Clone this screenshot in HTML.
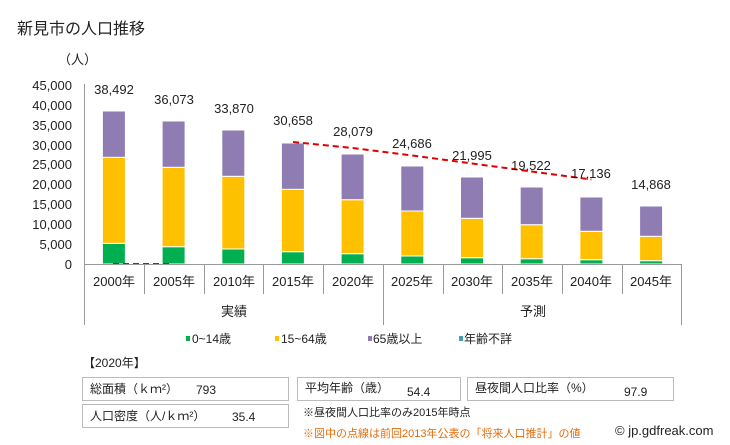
<!DOCTYPE html>
<html><head><meta charset="utf-8"><style>
body{margin:0;background:#fff;}
svg{display:block;font-family:"Liberation Sans","Noto Sans CJK JP",sans-serif;}
</style></head><body>
<svg width="730" height="445" viewBox="0 0 730 445" xmlns="http://www.w3.org/2000/svg">
<text x="17" y="34" font-size="16" fill="#222">新見市の人口推移</text>
<text x="58" y="64" font-size="13" fill="#222">（人）</text>
<g font-size="13" fill="#222" text-anchor="end">
<text x="72" y="269">0</text>
<text x="72" y="249">5,000</text>
<text x="72" y="229">10,000</text>
<text x="72" y="209">15,000</text>
<text x="72" y="189">20,000</text>
<text x="72" y="169">25,000</text>
<text x="72" y="150">30,000</text>
<text x="72" y="130">35,000</text>
<text x="72" y="110">40,000</text>
<text x="72" y="90">45,000</text>
</g>
<line x1="84.5" y1="84" x2="84.5" y2="264" stroke="#999"/>
<g stroke="#fff" stroke-width="1">
<rect x="102.4" y="243.3" width="23" height="20.7" fill="#00b050"/><rect x="102.4" y="157.3" width="23" height="86" fill="#ffc000"/><rect x="102.4" y="111" width="23" height="46.3" fill="#8e7cb3"/>
<rect x="162.1" y="246.7" width="23" height="17.3" fill="#00b050"/><rect x="162.1" y="167.3" width="23" height="79.4" fill="#ffc000"/><rect x="162.1" y="121" width="23" height="46.3" fill="#8e7cb3"/>
<rect x="221.8" y="249" width="23" height="15" fill="#00b050"/><rect x="221.8" y="176.3" width="23" height="72.7" fill="#ffc000"/><rect x="221.8" y="130" width="23" height="46.3" fill="#8e7cb3"/>
<rect x="281.4" y="251.7" width="23" height="12.3" fill="#00b050"/><rect x="281.4" y="189.3" width="23" height="62.4" fill="#ffc000"/><rect x="281.4" y="143" width="23" height="46.3" fill="#8e7cb3"/>
<rect x="341.1" y="253.7" width="23" height="10.3" fill="#00b050"/><rect x="341.1" y="199.7" width="23" height="54" fill="#ffc000"/><rect x="341.1" y="154" width="23" height="45.7" fill="#8e7cb3"/>
<rect x="400.8" y="256" width="23" height="8" fill="#00b050"/><rect x="400.8" y="211" width="23" height="45" fill="#ffc000"/><rect x="400.8" y="166" width="23" height="45" fill="#8e7cb3"/>
<rect x="460.5" y="257.7" width="23" height="6.3" fill="#00b050"/><rect x="460.5" y="218.3" width="23" height="39.4" fill="#ffc000"/><rect x="460.5" y="177" width="23" height="41.3" fill="#8e7cb3"/>
<rect x="520.2" y="258.7" width="23" height="5.3" fill="#00b050"/><rect x="520.2" y="224.7" width="23" height="34" fill="#ffc000"/><rect x="520.2" y="187" width="23" height="37.7" fill="#8e7cb3"/>
<rect x="579.9" y="259.7" width="23" height="4.3" fill="#00b050"/><rect x="579.9" y="231.3" width="23" height="28.4" fill="#ffc000"/><rect x="579.9" y="197" width="23" height="34.3" fill="#8e7cb3"/>
<rect x="639.6" y="260.7" width="23" height="3.3" fill="#00b050"/><rect x="639.6" y="236.3" width="23" height="24.4" fill="#ffc000"/><rect x="639.6" y="206" width="23" height="30.3" fill="#8e7cb3"/>
</g>
<g stroke="#e00000" stroke-width="2" stroke-dasharray="6,4" fill="none">
<line x1="113" y1="264" x2="173" y2="264"/>
<polyline points="293,142 352.6,148 412.3,155.5 472,163.5 531.7,171.5 591.4,179.5"/>
</g>
<g font-size="13" fill="#222" text-anchor="middle">
<text x="114" y="94">38,492</text><text x="174" y="104">36,073</text><text x="234" y="113">33,870</text>
<text x="293" y="125">30,658</text><text x="353" y="136">28,079</text><text x="412" y="148">24,686</text>
<text x="472" y="160">21,995</text><text x="531" y="170">19,522</text><text x="591" y="178">17,136</text><text x="651" y="189">14,868</text>
</g>
<line x1="84" y1="264.5" x2="681" y2="264.5" stroke="#999"/>
<g stroke="#999">
<line x1="84.5" y1="264" x2="84.5" y2="325"/><line x1="383.5" y1="264" x2="383.5" y2="325"/><line x1="681.5" y1="264" x2="681.5" y2="325"/>
<line x1="144.5" y1="264" x2="144.5" y2="294"/><line x1="204.5" y1="264" x2="204.5" y2="294"/><line x1="263.5" y1="264" x2="263.5" y2="294"/><line x1="323.5" y1="264" x2="323.5" y2="294"/>
<line x1="443.5" y1="264" x2="443.5" y2="294"/><line x1="502.5" y1="264" x2="502.5" y2="294"/><line x1="562.5" y1="264" x2="562.5" y2="294"/><line x1="622.5" y1="264" x2="622.5" y2="294"/>
</g>
<g font-size="13" fill="#222" text-anchor="middle">
<text x="114" y="286">2000年</text><text x="174" y="286">2005年</text><text x="234" y="286">2010年</text><text x="293" y="286">2015年</text><text x="353" y="286">2020年</text>
<text x="412" y="286">2025年</text><text x="472" y="286">2030年</text><text x="532" y="286">2035年</text><text x="591" y="286">2040年</text><text x="651" y="286">2045年</text>
<text x="234" y="316">実績</text><text x="533" y="316">予測</text>
</g>
<g font-size="12" fill="#222">
<rect x="186" y="336" width="4" height="5" fill="#00b050"/><text x="192" y="343">0~14歳</text>
<rect x="275" y="336" width="4" height="5" fill="#ffc000"/><text x="281" y="343">15~64歳</text>
<rect x="368" y="336" width="4" height="5" fill="#8e7cb3"/><text x="373" y="343">65歳以上</text>
<rect x="459" y="336" width="4" height="5" fill="#4a9cb0"/><text x="464" y="343">年齢不詳</text>
<text x="83" y="367">【2020年】</text>
</g>
<g fill="#fff" stroke="#bbb">
<rect x="82.5" y="377.5" width="206" height="23"/>
<rect x="82.5" y="404.5" width="206" height="23"/>
<rect x="297.5" y="377.5" width="163" height="23"/>
<rect x="467.5" y="377.5" width="206" height="23"/>
</g>
<g font-size="12" fill="#222">
<text x="90" y="393">総面積（ｋｍ²）</text><text x="196" y="394">793</text>
<text x="90" y="420">人口密度（人/ｋｍ²）</text><text x="232" y="421">35.4</text>
<text x="305" y="392">平均年齢（歳）</text><text x="407" y="396">54.4</text>
<text x="475" y="392">昼夜間人口比率（%）</text><text x="624" y="396">97.9</text>
<text x="303" y="416" font-size="11">※昼夜間人口比率のみ2015年時点</text>
<text x="303" y="437" font-size="11" fill="#e46c0a">※図中の点線は前回2013年公表の「将来人口推計」の値</text>
<text x="615" y="435" font-size="13">© jp.gdfreak.com</text>
</g>
</svg>
</body></html>
